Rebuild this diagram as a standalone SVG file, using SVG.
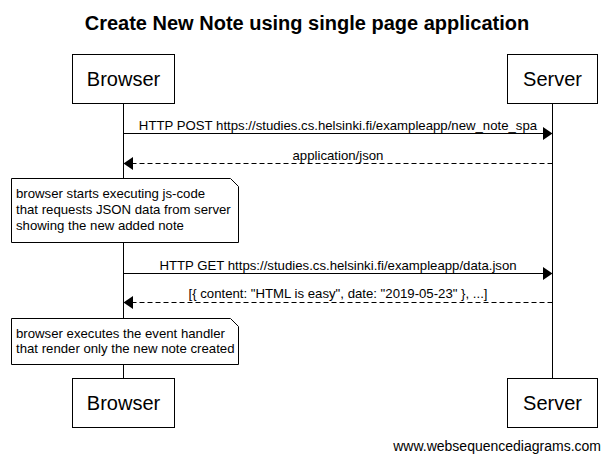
<svg xmlns="http://www.w3.org/2000/svg" width="611" height="461" viewBox="0 0 611 461">
<style>
text{font-family:"Liberation Sans",Arial,Helvetica,sans-serif;fill:#000}
.title{font-size:20px;font-weight:bold;text-anchor:middle}
.actor{font-size:20px;text-anchor:middle}
.msg{font-size:13.2px;text-anchor:middle}
.note{font-size:13.2px}
.foot{font-size:14px;text-anchor:end}
.box{fill:#fff;stroke:#000;stroke-width:1}
.life{stroke:#000;stroke-width:1;fill:none}
.solid{stroke:#000;stroke-width:1;fill:none}
.dash{stroke:#000;stroke-width:1;fill:none;stroke-dasharray:5,3}
.head{fill:#000;stroke:none}
</style>
<rect width="611" height="461" fill="#fff"/>
<text class="title" x="307" y="30">Create New Note using single page application</text>
<g id="lifelines">
<line class="life" x1="123.5" y1="103" x2="123.5" y2="378"/>
<line class="life" x1="552.5" y1="103" x2="552.5" y2="378"/>
</g>
<g id="browser-top"><rect class="box" x="72.5" y="54.5" width="102" height="49"/><text class="actor" x="123.5" y="86">Browser</text></g>
<g id="server-top"><rect class="box" x="507.5" y="54.5" width="90" height="49"/><text class="actor" x="552.5" y="86">Server</text></g>
<g id="browser-bottom"><rect class="box" x="72.5" y="378.5" width="102" height="49"/><text class="actor" x="123.5" y="410">Browser</text></g>
<g id="server-bottom"><rect class="box" x="507.5" y="378.5" width="90" height="49"/><text class="actor" x="552.5" y="410">Server</text></g>
<g id="connectors">
<line class="solid" x1="123.5" y1="133.5" x2="545" y2="133.5"/>
<polygon class="head" points="552.5,133.5 543,127 543,140"/>
<text class="msg" x="338" y="129.5">HTTP POST https://studies.cs.helsinki.fi/exampleapp/new_note_spa</text>
<line class="dash" x1="552.5" y1="163.5" x2="131" y2="163.5"/>
<polygon class="head" points="123.5,163.5 133,157 133,170"/>
<text class="msg" x="338" y="159.5">application/json</text>
<line class="solid" x1="123.5" y1="273.5" x2="545" y2="273.5"/>
<polygon class="head" points="552.5,273.5 543,267 543,280"/>
<text class="msg" x="338" y="269.5">HTTP GET https://studies.cs.helsinki.fi/exampleapp/data.json</text>
<line class="dash" x1="552.5" y1="302.5" x2="131" y2="302.5"/>
<polygon class="head" points="123.5,302.5 133,296 133,309"/>
<text class="msg" x="338" y="298">[{ content: "HTML is easy", date: "2019-05-23" }, ...]</text>
</g>
<g id="note1">
<path class="box" d="M11.5,178.5 H230.5 L238.5,186.5 V242.5 H11.5 Z"/>
<text class="note" x="16" y="198">browser starts executing js-code</text>
<text class="note" x="16" y="214">that requests JSON data from server</text>
<text class="note" x="16" y="230">showing the new added note</text>
</g>
<g id="note2">
<path class="box" d="M11.5,318.5 H230.5 L238.5,326.5 V364.5 H11.5 Z"/>
<text class="note" x="16" y="338">browser executes the event handler</text>
<text class="note" x="16" y="353">that render only the new note created</text>
</g>
<text class="foot" x="601" y="451">www.websequencediagrams.com</text>
</svg>
